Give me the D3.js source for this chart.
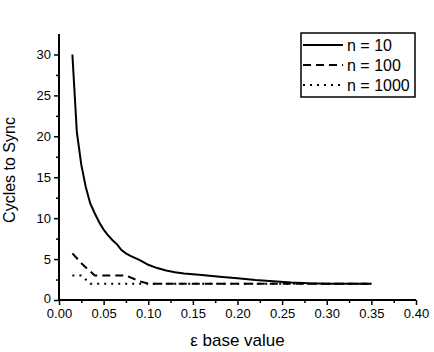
<!DOCTYPE html>
<html>
<head>
<meta charset="utf-8">
<script src="https://cdn.jsdelivr.net/npm/d3@7"></script>
<style>
  body { margin: 0; background: #fff; }
  svg text { font-family: "Liberation Sans", Arial, sans-serif; fill: #000; }
</style>
</head>
<body>
<svg id="chart" width="434" height="352"></svg>
<script>
// data
const seriesNames = ["n = 10", "n = 100", "n = 1000"];
const n10 = [
  [0.015, 30], [0.02, 20.5], [0.025, 16.5], [0.03, 13.8], [0.035, 11.8],
  [0.04, 10.6], [0.045, 9.5], [0.05, 8.6], [0.055, 7.9], [0.06, 7.3],
  [0.065, 6.8], [0.07, 6.1], [0.075, 5.7], [0.08, 5.4], [0.09, 4.9],
  [0.1, 4.3], [0.11, 3.9], [0.12, 3.6], [0.13, 3.4], [0.14, 3.25],
  [0.15, 3.15], [0.16, 3.05], [0.18, 2.85], [0.2, 2.65], [0.22, 2.45],
  [0.24, 2.3], [0.26, 2.15], [0.28, 2.05], [0.3, 2.0], [0.35, 2.0]
];
const n100 = [
  [0.015, 5.7], [0.025, 4.5], [0.035, 3.5], [0.04, 3.0], [0.05, 3.0],
  [0.06, 3.0], [0.075, 3.0], [0.09, 2.3], [0.1, 2.0], [0.15, 2.0],
  [0.2, 2.0], [0.25, 2.0], [0.3, 2.0], [0.35, 2.0]
];
const n1000 = [
  [0.015, 3.0], [0.025, 3.0], [0.035, 2.0], [0.05, 2.0], [0.1, 2.0],
  [0.15, 2.0], [0.2, 2.0], [0.25, 2.0], [0.3, 2.0], [0.35, 2.0]
];
const xTicks = [0, 0.05, 0.1, 0.15, 0.2, 0.25, 0.3, 0.35, 0.4];
const yTicks = [0, 5, 10, 15, 20, 25, 30];

const svg = d3.select("#chart");
const margin = { left: 59, right: 18, top: 34, bottom: 52 };
const W = 434, H = 352;

const x = d3.scaleLinear().domain([0, 0.4]).range([margin.left, W - margin.right]);
const y = d3.scaleLinear().domain([0, 32.5]).range([H - margin.bottom, margin.top]);

// minor ticks
const xMinor = d3.range(0.025, 0.4, 0.05);
const yMinor = d3.range(2.5, 32.5, 5);

const xAxisG = svg.append("g")
  .attr("transform", `translate(0,${y(0)})`)
  .call(d3.axisBottom(x).tickValues(xTicks).tickSize(5).tickPadding(4).tickFormat(d3.format(".2f")));
svg.append("g")
  .attr("transform", `translate(0,${y(0)})`)
  .call(d3.axisBottom(x).tickValues(xMinor).tickSize(3).tickFormat(""))
  .call(g => g.select(".domain").remove());

const yAxisG = svg.append("g")
  .attr("transform", `translate(${x(0)},0)`)
  .call(d3.axisLeft(y).tickValues(yTicks).tickSize(5).tickPadding(3));
svg.append("g")
  .attr("transform", `translate(${x(0)},0)`)
  .call(d3.axisLeft(y).tickValues(yMinor).tickSize(3).tickFormat(""))
  .call(g => g.select(".domain").remove());

svg.selectAll(".domain").attr("stroke", "#000").attr("stroke-width", 2);
svg.selectAll(".tick line").attr("stroke", "#000").attr("stroke-width", 1.5);
svg.selectAll(".tick text").style("font-size", "13px").attr("fill", "#000")
  .style("font-family", "'Liberation Sans', Arial, sans-serif");
// y "0" sits a touch higher so it clears "0.00"
yAxisG.selectAll(".tick").filter(d => d === 0).select("text").attr("dy", "0.2em");
// remove outer domain caps
xAxisG.select(".domain").attr("d", `M${x(0)},0H${x(0.4)}`);
yAxisG.select(".domain").attr("d", `M0,${y(0)}V${y(32.5)}`);

// axis titles
svg.append("text")
  .attr("x", (x(0) + x(0.4)) / 2)
  .attr("y", 346)
  .attr("text-anchor", "middle")
  .style("font-size", "17px")
  .text("ε base value");

svg.append("text")
  .attr("transform", `translate(15,${(y(0) + y(32.5)) / 2 + 3}) rotate(-90)`)
  .attr("text-anchor", "middle")
  .style("font-size", "16px")
  .text("Cycles to Sync");

// lines
const line = d3.line().x(d => x(d[0])).y(d => y(d[1]));
const styles = [
  { data: n10, dash: null },
  { data: n100, dash: "8,5" },
  { data: n1000, dash: "2,5" }
];
styles.forEach(s => {
  svg.append("path")
    .datum(s.data)
    .attr("fill", "none")
    .attr("stroke", "#000")
    .attr("stroke-width", 2)
    .attr("stroke-dasharray", s.dash)
    .attr("d", line);
});

// legend
const lg = svg.append("g").attr("transform", "translate(301,33)");
lg.append("rect")
  .attr("width", 114).attr("height", 64)
  .attr("fill", "#fff").attr("stroke", "#000").attr("stroke-width", 1.5);
styles.forEach((s, i) => {
  const ly = 12 + i * 20;
  lg.append("line")
    .attr("x1", 2).attr("x2", 42).attr("y1", ly).attr("y2", ly)
    .attr("stroke", "#000").attr("stroke-width", 2)
    .attr("stroke-dasharray", s.dash);
  lg.append("text")
    .attr("x", 46).attr("y", ly + 6)
    .style("font-size", "16px")
    .text(seriesNames[i]);
});
</script>
</body>
</html>
